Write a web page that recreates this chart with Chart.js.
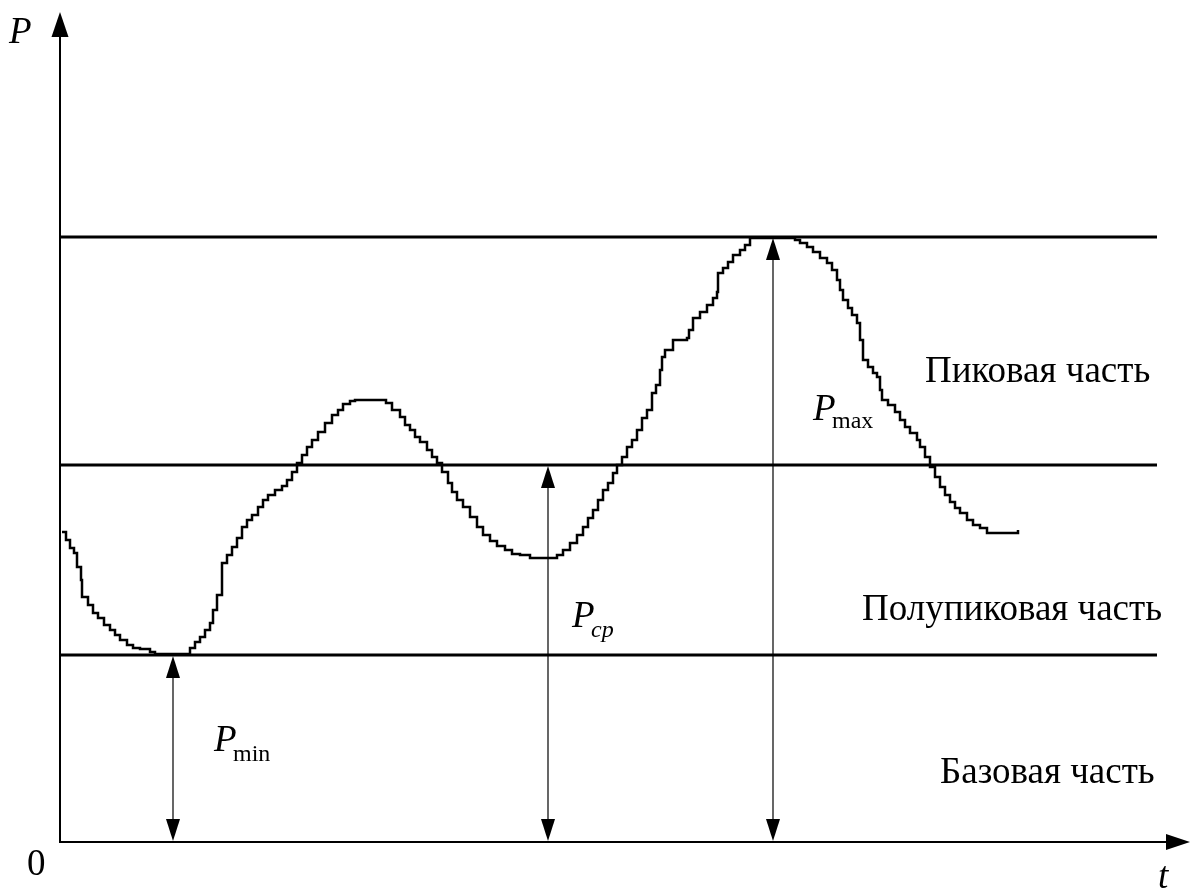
<!DOCTYPE html>
<html>
<head>
<meta charset="utf-8">
<script src="https://cdn.jsdelivr.net/npm/chart.js@4/dist/chart.umd.min.js"></script>
<style>
  html, body { margin: 0; padding: 0; background: #fff; }
  #wrap { width: 1192px; height: 890px; position: relative; }
</style>
</head>
<body>
<div id="wrap"><canvas id="myChart"></canvas></div>
<script>
// Load curve P(t) (t and P in arbitrary units)
const curveT = [
  0.2, 0.6, 1.0, 1.4, 1.7, 2.1, 2.2, 2.8, 3.3, 3.8, 4.4, 5.0, 5.5, 6.0, 6.7, 7.3, 8.0, 9.0, 9.5, 12.7,
  13.0, 13.5, 14.0, 14.5, 15.0, 15.3, 15.7, 16.2, 16.2, 16.7, 17.2, 17.7, 18.2, 18.7, 19.2, 19.8, 20.3,
  20.8, 21.5, 22.2, 22.7, 23.2, 23.7, 24.2, 24.7, 25.2, 25.8, 26.5, 27.2, 27.8, 28.3, 29.0, 29.5, 32.0,
  32.6, 33.2, 34.0, 34.5, 35.0, 35.5, 36.0, 36.7, 37.2, 37.7, 38.2, 38.8, 39.2, 39.7, 40.3, 41.0, 41.7,
  42.3, 43.0, 43.7, 44.5, 45.2, 46.0, 47.0, 49.3,
  49.7, 50.3, 51.0, 51.7, 52.3, 52.8, 53.3, 53.8, 54.3, 54.8, 55.3, 55.7, 56.2, 56.7, 57.2, 57.7, 58.2,
  58.7, 59.2, 59.6, 60.0, 60.2, 60.5, 61.3, 62.7, 62.9, 63.3, 64.0, 64.7, 65.3, 65.7, 65.8, 66.3, 66.8,
  67.3, 68.0, 68.5, 69.0, 73.0,
  73.5, 74.0, 74.7, 75.3, 76.0, 76.7, 77.2, 77.7, 78.0, 78.3, 78.8, 79.2, 79.7, 80.0, 80.3, 80.8, 81.3,
  81.7, 82.0, 82.2, 82.8, 83.5, 84.0, 84.5, 85.0, 85.7, 86.0, 86.5, 87.0, 87.5, 88.0, 88.5, 89.0, 89.5,
  90.0, 90.7, 91.3, 92.0, 92.7, 95.8, 95.8
];
const curveP = [
  31.0, 30.2, 29.4, 28.9, 27.5, 26.2, 24.5, 23.7, 22.9, 22.4, 21.7, 21.2, 20.7, 20.2, 19.7, 19.4, 19.3, 19.0, 18.8, 18.8,
  19.4, 20.0, 20.5, 21.2, 21.9, 23.2, 24.7, 26.2, 27.9, 28.7, 29.5, 30.4, 31.5, 32.2, 32.7, 33.5, 34.2,
  34.7, 35.2, 35.6, 36.2, 37.0, 37.9, 38.7, 39.5, 40.2, 41.0, 41.9, 42.7, 43.2, 43.8, 44.1, 44.2, 44.2,
  43.9, 43.2, 42.5, 41.7, 41.2, 40.5, 40.0, 39.2, 38.5, 37.9, 37.0, 35.9, 35.0, 34.2, 33.5, 32.5, 31.5,
  30.7, 30.1, 29.6, 29.2, 28.8, 28.7, 28.4, 28.4,
  28.7, 29.2, 29.9, 30.7, 31.5, 32.4, 33.2, 34.2, 35.2, 35.9, 36.9, 37.7, 38.5, 39.5, 40.2, 41.2, 42.4,
  43.2, 44.9, 45.7, 47.2, 48.5, 49.2, 50.2, 50.4, 51.2, 52.4, 53.0, 53.7, 54.4, 55.0, 56.9, 57.4, 58.0,
  58.7, 59.2, 59.7, 60.4, 60.4,
  60.2, 59.9, 59.5, 59.0, 58.4, 57.9, 57.2, 56.2, 55.2, 54.2, 53.4, 52.7, 51.9, 50.2, 48.2, 47.5, 46.9,
  46.5, 45.2, 44.2, 43.7, 43.0, 42.2, 41.5, 40.9, 40.2, 39.5, 38.5, 37.5, 36.5, 35.5, 34.7, 34.0, 33.4,
  32.9, 32.2, 31.7, 31.4, 30.9, 30.9, 31.2
];

// Level lines: Pmin, Pcp, Pmax
const levelNames = ["min", "ср", "max"];
const levelValues = [18.7, 37.7, 60.5];
const levelEnd = 109.7;
// where the double arrows stand on the t axis
const arrowT = [11.3, 48.8, 71.3];

const zoneLabels = ["Пиковая часть", "Полупиковая часть", "Базовая часть"];

const tMax = 113;
const pMax = 83;

const curveData = curveT.map((t, i) => ({ x: t, y: curveP[i] }));

const levelDatasets = levelValues.map(v => ({
  data: [{ x: 0, y: v }, { x: levelEnd, y: v }],
  borderColor: '#000',
  borderWidth: 3,
  pointRadius: 0
}));

// draws axes, arrows and text on top of the chart
const overlay = {
  id: 'overlay',
  afterDatasetsDraw(chart) {
    const c = chart.ctx;
    const xs = chart.scales.x, ys = chart.scales.y;
    const x0 = xs.getPixelForValue(0), y0 = ys.getPixelForValue(0);
    const xEnd = xs.getPixelForValue(tMax), yTop = ys.getPixelForValue(pMax);
    c.save();
    c.fillStyle = '#000';
    c.strokeStyle = '#000';

    // axes
    c.lineWidth = 2;
    c.beginPath();
    c.moveTo(x0, y0); c.lineTo(x0, yTop + 20);
    c.moveTo(x0 - 1, y0); c.lineTo(xEnd - 20, y0);
    c.stroke();
    c.beginPath();
    c.moveTo(x0, yTop); c.lineTo(x0 - 8.5, yTop + 25); c.lineTo(x0 + 8.5, yTop + 25);
    c.closePath(); c.fill();
    c.beginPath();
    c.moveTo(xEnd, y0); c.lineTo(xEnd - 24, y0 - 8); c.lineTo(xEnd - 24, y0 + 8);
    c.closePath(); c.fill();

    // double arrows from the axis to each level
    c.lineWidth = 1.2;
    arrowT.forEach((t, i) => {
      const x = xs.getPixelForValue(t);
      const yl = ys.getPixelForValue(levelValues[i]);
      c.beginPath();
      c.moveTo(x, yl + 20); c.lineTo(x, y0 - 20);
      c.stroke();
      c.beginPath();
      c.moveTo(x, yl + 1); c.lineTo(x - 7, yl + 23); c.lineTo(x + 7, yl + 23);
      c.closePath(); c.fill();
      c.beginPath();
      c.moveTo(x, y0 - 1); c.lineTo(x - 7, y0 - 23); c.lineTo(x + 7, y0 - 23);
      c.closePath(); c.fill();
    });

    // text
    c.textBaseline = 'alphabetic';
    c.textAlign = 'left';
    const serif = '"Liberation Serif", "Times New Roman", serif';
    c.font = '37px ' + serif;
    c.fillText(zoneLabels[0], 925, 382);
    c.fillText(zoneLabels[1], 862, 620);
    c.fillText(zoneLabels[2], 940, 783);
    c.fillText('0', 27, 875);

    c.font = 'italic 37px ' + serif;
    c.fillText('P', 9, 43);
    c.fillText('t', 1158, 888);

    const sym = [
      { px: 214, py: 751, sx: 233, sy: 761, italic: false },
      { px: 572, py: 627, sx: 591, sy: 637, italic: true },
      { px: 813, py: 420, sx: 832, sy: 428, italic: false }
    ];
    sym.forEach((s, i) => {
      c.font = 'italic 37px ' + serif;
      c.fillText('P', s.px, s.py);
      c.font = (s.italic ? 'italic ' : '') + '24px ' + serif;
      c.fillText(levelNames[i], s.sx, s.sy);
    });
    c.restore();
  }
};

const ctx = document.getElementById('myChart');
const myChart = new Chart(ctx, {
  type: 'line',
  data: {
    datasets: [
      {
        data: curveData,
        borderColor: '#000',
        borderWidth: 2.5,
        pointRadius: 0,
        stepped: true
      },
      ...levelDatasets
    ]
  },
  options: {
    responsive: true,
    maintainAspectRatio: false,
    animation: false,
    layout: { padding: { left: 60, right: 2, top: 12, bottom: 48 } },
    scales: {
      x: { type: 'linear', min: 0, max: tMax, display: false },
      y: { type: 'linear', min: 0, max: pMax, display: false }
    },
    plugins: {
      legend: { display: false },
      tooltip: { enabled: false }
    }
  },
  plugins: [overlay]
});
</script>
</body>
</html>
